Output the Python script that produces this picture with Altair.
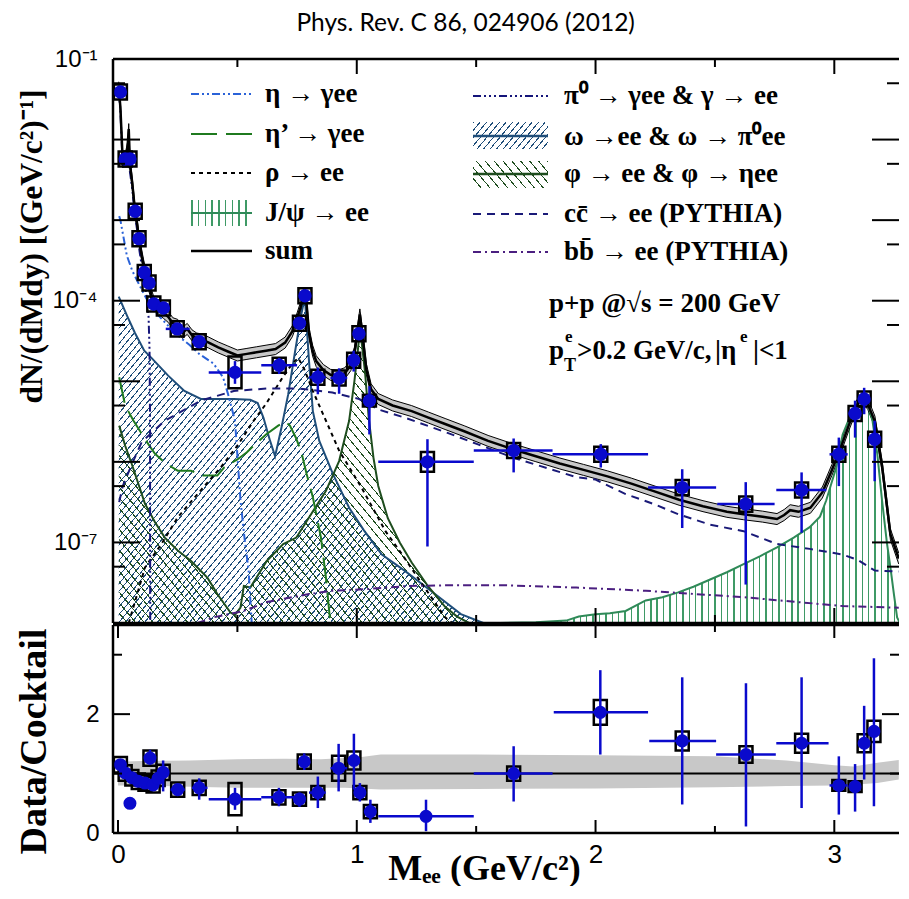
import math
import altair as alt
import pandas as pd

# ====================== values ======================
# --- top panel: measured dN/dMdy ---
data_m = [0.010, 0.030, 0.050, 0.072, 0.088, 0.110, 0.130, 0.150, 0.190, 0.248,
          0.340, 0.490, 0.675, 0.760, 0.783, 0.837, 0.926, 0.987, 1.009, 1.053,
          1.296, 1.657, 2.022, 2.363, 2.629, 2.863, 3.019, 3.087, 3.125, 3.169]
data_v = [3.89e-2, 5.75e-3, 5.75e-3, 1.29e-3, 5.89e-4, 2.24e-4, 1.66e-4, 9.12e-5, 8.13e-5, 4.47e-5,
          3.09e-5, 1.29e-5, 1.58e-5, 5.25e-5, 1.15e-4, 1.12e-5, 1.10e-5, 1.82e-5, 3.89e-5, 5.75e-6,
          1.00e-6, 1.38e-6, 1.24e-6, 4.79e-7, 2.99e-7, 4.47e-7, 1.24e-6, 3.98e-6, 6.03e-6, 1.91e-6]
data_lo = [3.6e-2, 5.4e-3, 5.4e-3, 1.2e-3, 5.5e-4, 2.08e-4, 1.55e-4, 8.4e-5, 7.5e-5, 4.1e-5,
           2.63e-5, 9.3e-6, 1.23e-5, 4.8e-5, 1.08e-4, 6.9e-6, 7.0e-6, 1.32e-5, 3.5e-5, 2.19e-6,
           8.9e-8, 7.4e-7, 8.5e-7, 1.51e-7, 3.0e-8, 1.32e-7, 5.0e-7, 2.0e-6, 3.9e-6, 5.75e-7]
data_hi = [4.2e-2, 6.1e-3, 6.1e-3, 1.38e-3, 6.3e-4, 2.4e-4, 1.78e-4, 9.9e-5, 8.8e-5, 4.9e-5,
           3.63e-5, 1.78e-5, 1.95e-5, 5.7e-5, 1.22e-4, 1.48e-5, 1.45e-5, 2.4e-5, 4.3e-5, 8.7e-6,
           1.91e-6, 1.95e-6, 1.66e-6, 8.1e-7, 5.6e-7, 7.4e-7, 2.0e-6, 5.75e-6, 8.3e-6, 3.24e-6]
data_mlo = [0.005, 0.025, 0.045, 0.066, 0.082, 0.104, 0.124, 0.140, 0.180, 0.200,
            0.310, 0.380, 0.600, 0.750, 0.775, 0.800, 0.890, 0.970, 1.000, 1.030,
            1.090, 1.490, 1.820, 2.220, 2.510, 2.757, 2.980, 3.060, 3.110, 3.150]
data_mhi = [0.015, 0.035, 0.055, 0.078, 0.094, 0.116, 0.136, 0.160, 0.200, 0.300,
            0.370, 0.600, 0.750, 0.770, 0.790, 0.870, 0.960, 1.000, 1.020, 1.080,
            1.490, 1.820, 2.220, 2.505, 2.750, 2.967, 3.056, 3.110, 3.140, 3.190]
data_sys = [0.24, 0.24, 0.24, 0.24, 0.24, 0.24, 0.24, 0.24, 0.24, 0.24,
            0.24, 0.57, 0.24, 0.24, 0.24, 0.24, 0.24, 0.24, 0.24, 0.18,
            0.33, 0.24, 0.24, 0.24, 0.24, 0.24, 0.24, 0.24, 0.24, 0.24]

# --- bottom panel: data / cocktail ---
ratio_m = [0.010, 0.030, 0.050, 0.058, 0.085, 0.113, 0.134, 0.147, 0.168, 0.189,
           0.250, 0.340, 0.490, 0.674, 0.760, 0.780, 0.837, 0.924, 0.988, 1.013,
           1.057, 1.290, 1.657, 2.020, 2.363, 2.630, 2.863, 3.019, 3.087, 3.125, 3.166]
ratio_v = [1.15, 1.01, 0.50, 0.93, 0.87, 0.84, 1.26, 0.81, 0.92, 1.02,
           0.73, 0.76, 0.57, 0.60, 0.57, 1.20, 0.68, 1.09, 1.22, 0.68,
           0.36, 0.28, 1.00, 2.03, 1.55, 1.32, 1.51, 0.80, 0.78, 1.51, 1.71]
ratio_lo = [1.09, 0.96, 0.46, 0.88, 0.82, 0.79, 1.15, 0.76, 0.85, 0.70,
            0.68, 0.56, 0.39, 0.45, 0.44, 1.06, 0.42, 0.70, 0.73, 0.53,
            0.17, 0.03, 0.53, 1.32, 0.48, 0.11, 0.42, 0.31, 0.36, 0.90, 0.45]
ratio_hi = [1.21, 1.06, 0.54, 0.98, 0.92, 0.89, 1.40, 0.86, 0.99, 1.22,
            0.78, 0.92, 0.76, 0.76, 0.68, 1.34, 0.95, 1.50, 1.67, 0.84,
            0.56, 0.56, 1.46, 2.74, 2.62, 2.52, 2.62, 1.29, 1.16, 2.14, 2.94]
ratio_mlo = [0.005, 0.025, 0.045, 0.053, 0.080, 0.108, 0.129, 0.142, 0.163, 0.184,
             0.220, 0.310, 0.380, 0.600, 0.750, 0.775, 0.800, 0.890, 0.970, 1.000,
             1.030, 1.090, 1.490, 1.825, 2.225, 2.505, 2.757, 2.980, 3.060, 3.110, 3.150]
ratio_mhi = [0.015, 0.035, 0.055, 0.063, 0.090, 0.118, 0.139, 0.152, 0.173, 0.194,
             0.280, 0.375, 0.600, 0.747, 0.770, 0.790, 0.870, 0.960, 1.000, 1.025,
             1.080, 1.490, 1.820, 2.220, 2.505, 2.755, 2.976, 3.056, 3.110, 3.140, 3.190]
ratio_sys = [0.13, 0.13, 0.00, 0.13, 0.13, 0.13, 0.13, 0.13, 0.13, 0.13,
             0.12, 0.12, 0.27, 0.12, 0.11, 0.12, 0.11, 0.21, 0.15, 0.11,
             0.11, 0.00, 0.12, 0.21, 0.16, 0.14, 0.16, 0.09, 0.09, 0.15, 0.18]

# cocktail systematic band in the ratio panel
band_m = [0.0, 0.1, 0.3, 0.5, 0.7, 0.85, 0.95, 1.02, 1.1, 1.5, 2.0, 2.5, 2.8, 3.0, 3.08, 3.18, 3.27]
band_lo = [0.80, 0.80, 0.78, 0.76, 0.76, 0.76, 0.76, 0.75, 0.73, 0.74, 0.75, 0.77, 0.79, 0.80, 0.81, 0.84, 0.90]
band_hi = [1.20, 1.21, 1.22, 1.24, 1.25, 1.24, 1.26, 1.28, 1.32, 1.32, 1.31, 1.29, 1.22, 1.14, 1.12, 1.18, 1.23]
SUM_BAND = 1.17   # relative systematic width of the cocktail sum (top panel)

# --- cocktail components: mass [GeV/c^2] and log10(dN/dMdy) ---
sum_m = [0.003, 0.01, 0.02, 0.03, 0.04, 0.045, 0.05, 0.06, 0.07, 0.08, 0.09, 0.10, 0.11, 0.12, 0.13,
         0.14, 0.15, 0.17, 0.19, 0.21, 0.23, 0.25, 0.27, 0.29, 0.31, 0.33, 0.35, 0.38, 0.42, 0.46,
         0.50, 0.54, 0.58, 0.62, 0.66, 0.70, 0.73, 0.75, 0.765, 0.775, 0.782, 0.79, 0.80, 0.815, 0.83,
         0.86, 0.89, 0.92, 0.95, 0.975, 0.99, 1.0, 1.013, 1.025, 1.04, 1.06, 1.09, 1.15, 1.23, 1.30,
         1.37, 1.45, 1.55, 1.65, 1.75, 1.85, 1.95, 2.05, 2.15, 2.25, 2.35, 2.45, 2.55, 2.62, 2.70,
         2.76, 2.79, 2.815, 2.85, 2.90, 2.95, 2.99, 3.03, 3.06, 3.09, 3.118, 3.14, 3.17, 3.20, 3.235, 3.27]
sum_log10 = [-1.35, -1.6, -2.28, -2.25, -2.1, -1.87, -2.3, -2.55, -2.85, -3.05, -3.28, -3.45, -3.6, -3.72, -3.82,
             -3.93, -4.02, -4.1, -4.15, -4.2, -4.28, -4.3, -4.4, -4.35, -4.43, -4.47, -4.48, -4.52, -4.58, -4.63,
             -4.68, -4.66, -4.64, -4.62, -4.6, -4.52, -4.38, -4.22, -4.08, -3.95, -3.9, -4.05, -4.4, -4.62, -4.75,
             -4.86, -4.92, -4.93, -4.9, -4.8, -4.65, -4.45, -4.17, -4.45, -4.85, -5.1, -5.22, -5.3, -5.37, -5.45,
             -5.53, -5.62, -5.74, -5.84, -5.93, -6.02, -6.1, -6.18, -6.27, -6.37, -6.47, -6.55, -6.62, -6.65, -6.68,
             -6.71, -6.66, -6.6, -6.62, -6.57, -6.38, -6.1, -5.8, -5.55, -5.32, -5.2, -5.28, -5.5, -6.05, -6.9, -7.2]

pi0_m = [0.003, 0.01, 0.02, 0.03, 0.04, 0.05, 0.06, 0.07, 0.08, 0.09, 0.10, 0.11, 0.12, 0.128, 0.132, 0.134, 0.135]
pi0_log10 = [-1.38, -1.65, -2.33, -2.3, -2.2, -2.4, -2.62, -2.92, -3.12, -3.38, -3.58, -3.76, -3.95, -4.2, -4.6, -5.4, -8.0]

eta_m = [0.005, 0.01, 0.037, 0.06, 0.092, 0.12, 0.15, 0.2, 0.25, 0.3, 0.34, 0.40, 0.44, 0.46, 0.49,
         0.513, 0.53, 0.547, 0.56]
eta_log10 = [-2.95, -3.0, -3.44, -3.63, -3.82, -3.98, -4.12, -4.28, -4.43, -4.55, -4.66, -4.78, -4.95, -5.15, -5.49,
             -6.48, -6.95, -7.35, -8.0]

etap_m = [0.005, 0.03, 0.065, 0.127, 0.155, 0.2, 0.25, 0.306, 0.35, 0.416, 0.444, 0.5, 0.54, 0.575, 0.62,
          0.671, 0.70, 0.72, 0.745, 0.768, 0.79, 0.816, 0.85, 0.871, 0.887, 0.895]
etap_log10 = [-4.95, -5.3, -5.49, -5.78, -5.9, -6.02, -6.11, -6.11, -6.17, -6.17, -6.07, -5.97, -5.88, -5.78, -5.66,
              -5.55, -5.5, -5.55, -5.7, -5.88, -6.15, -6.44, -6.94, -7.44, -7.93, -8.0]

rho_m = [0.045, 0.113, 0.182, 0.25, 0.333, 0.43, 0.5, 0.568, 0.62, 0.69, 0.73, 0.755, 0.78, 0.816, 0.871,
         0.926, 1.02, 1.12, 1.19, 1.27, 1.37, 1.40]
rho_log10 = [-8.0, -7.31, -7.02, -6.69, -6.40, -6.07, -5.8, -5.49, -5.28, -4.95, -4.78, -4.71, -4.85, -5.12, -5.49,
             -5.86, -6.32, -6.86, -7.15, -7.5, -7.93, -8.0]

omega_m = [0.003, 0.04, 0.071, 0.11, 0.14, 0.21, 0.278, 0.347, 0.42, 0.485, 0.554, 0.585, 0.609, 0.637, 0.658,
           0.685, 0.713, 0.74, 0.765, 0.778, 0.783, 0.79, 0.80, 0.816, 0.843, 0.90, 0.968, 1.03, 1.105, 1.2,
           1.31, 1.436, 1.53]
omega_log10 = [-3.95, -4.2, -4.4, -4.62, -4.71, -4.93, -5.12, -5.22, -5.22, -5.22, -5.23, -5.27, -5.45, -5.74, -5.93,
               -5.57, -5.16, -4.66, -4.21, -4.02, -3.97, -4.3, -4.75, -5.37, -5.74, -6.15, -6.57, -6.85, -7.15, -7.35,
               -7.6, -7.89, -8.0]

phi_m = [0.005, 0.03, 0.058, 0.113, 0.155, 0.196, 0.25, 0.306, 0.375, 0.416, 0.471, 0.49, 0.513, 0.527, 0.554,
         0.623, 0.692, 0.747, 0.80, 0.871, 0.926, 0.968, 0.99, 1.005, 1.013, 1.022, 1.035, 1.05, 1.07, 1.09,
         1.13, 1.18, 1.23, 1.3, 1.37, 1.42, 1.47]
phi_log10 = [-5.55, -5.8, -6.03, -6.52, -6.75, -6.94, -7.1, -7.23, -7.44, -7.64, -7.87, -7.9, -7.81, -7.54, -7.56,
             -7.23, -7.02, -6.94, -6.69, -6.36, -5.99, -5.49, -5.0, -4.6, -4.37, -4.55, -4.9, -5.45, -5.95, -6.3,
             -6.7, -7.0, -7.25, -7.55, -7.8, -7.92, -8.0]

jpsi_m = [1.45, 1.6, 1.75, 1.877, 1.93, 2.0, 2.06, 2.126, 2.21, 2.28, 2.346, 2.41, 2.48, 2.55, 2.62, 2.69,
          2.76, 2.83, 2.897, 2.94, 2.966, 3.008, 3.035, 3.06, 3.077, 3.1, 3.118, 3.14, 3.16, 3.18, 3.2, 3.22,
          3.235, 3.25, 3.263, 3.275]
jpsi_log10 = [-8.0, -8.0, -7.99, -7.97, -7.92, -7.89, -7.88, -7.85, -7.72, -7.68, -7.62, -7.55, -7.46, -7.37, -7.27,
              -7.17, -7.06, -6.94, -6.81, -6.68, -6.48, -6.07, -5.66, -5.48, -5.37, -5.26, -5.2, -5.27, -5.49, -5.9,
              -6.48, -7.0, -7.31, -7.65, -7.93, -8.0]

cc_m = [0.005, 0.02, 0.058, 0.1, 0.196, 0.347, 0.485, 0.623, 0.76, 0.898, 1.01, 1.09, 1.2, 1.38, 1.505, 1.657,
        1.8, 1.92, 2.0, 2.126, 2.25, 2.346, 2.48, 2.62, 2.76, 2.897, 3.035, 3.1, 3.17, 3.27]
cc_log10 = [-6.5, -6.3, -6.03, -5.75, -5.49, -5.24, -5.12, -5.09, -5.09, -5.14, -5.22, -5.35, -5.45, -5.64, -5.78,
            -5.95, -6.08, -6.19, -6.22, -6.40, -6.53, -6.65, -6.78, -6.86, -7.02, -7.08, -7.15, -7.22, -7.35, -7.36]

bb_m = [0.333, 0.4, 0.527, 0.623, 0.80, 0.898, 1.037, 1.216, 1.42, 1.6, 1.92, 2.21, 2.62, 3.035, 3.27]
bb_log10 = [-8.0, -7.93, -7.85, -7.74, -7.64, -7.6, -7.58, -7.54, -7.53, -7.53, -7.56, -7.6, -7.68, -7.79, -7.81]

# ====================== layout / style ======================
W = 786
XMAX = 3.25
H_TOP = 564
H_BOT = 208
YMIN_EXP, YMAX_EXP = -8, -1
PXU = W / XMAX
PXD = H_TOP / (YMAX_EXP - YMIN_EXP)

BLUE = "#0a0acc"
C_ETA = "#2a62d8"
C_ETAP = "#1f7a1f"
C_PI0 = "#14147a"
C_OMEGA = "#1f4e7a"
C_PHI = "#1e4d1e"
C_JPSI = "#2f8a58"
C_JPSI_H = "#3f9a66"
C_CC = "#1a1a78"
C_BB = "#4b1f80"
SERIF = "Liberation Serif"
SANS = "Liberation Sans"
LEG = 27

XS = alt.Scale(domain=[0, XMAX], nice=False, zero=False)
YS = alt.Scale(type="log", domain=[10.0 ** YMIN_EXP, 10.0 ** YMAX_EXP], nice=False)
RS = alt.Scale(domain=[0, 3.5], nice=False, zero=False)

YAX_TOP = alt.Axis(values=[1e-1, 1e-4, 1e-7],
                   labelExpr="datum.value > 0.01 ? '10⁻¹' : (datum.value > 0.00001 ? '10⁻⁴' : '10⁻⁷')",
                   ticks=False, tickSize=0, domain=False, grid=False, labelFlush=False,
                   labelFont=SANS, labelFontSize=24, labelColor="black", labelPadding=16,
                   title="dN/(dMdy) [(GeV/c²)⁻¹]", titleFont=SERIF, titleFontWeight="bold",
                   titleFontSize=31.5, titleColor="black", titleAngle=270, titleAlign="center",
                   titleBaseline="alphabetic", titleX=-72, titleY=187)
YAX_BOT = alt.Axis(values=[0, 2], ticks=False, tickSize=0, domain=False, grid=False, labelFlush=False,
                   labelFont=SANS, labelFontSize=24, labelColor="black", labelPadding=14,
                   title="Data/Cocktail", titleFont=SERIF, titleFontWeight="bold", titleFontSize=38,
                   titleColor="black", titleAngle=270, titleAlign="center", titleBaseline="alphabetic",
                   titleX=-68, titleY=116)
XAX_BOT = alt.Axis(values=[0, 1, 2, 3], ticks=False, tickSize=0, domain=False, grid=False, labelFlush=False,
                   labelFont=SANS, labelFontSize=26, labelColor="black", labelPadding=8,
                   title="Mₑₑ (GeV/c²)", titleFont=SERIF, titleFontWeight="bold", titleFontSize=36,
                   titleColor="black", titleAlign="center", titleBaseline="alphabetic",
                   titleX=371, titleY=46)


def tx(f):
    return alt.X(f, type="quantitative", scale=XS, axis=None)


def ty(f):
    return alt.Y(f, type="quantitative", scale=YS, axis=YAX_TOP)


def bx(f):
    return alt.X(f, type="quantitative", scale=XS, axis=XAX_BOT)


def by(f):
    return alt.Y(f, type="quantitative", scale=RS, axis=YAX_BOT)


ONE = pd.DataFrame({"k": [0]})


def curve(ms, logs):
    return pd.DataFrame({"M": ms, "v": [10.0 ** e for e in logs]})


def hatch_fill(color, w_px, h_px, period, kind, lw=1.0, angle=50):
    clear = "rgba(255,255,255,0)"
    if kind == "|":
        x1, y1, x2, y2 = 0.0, 0.0, 1.0, 0.0
        n = max(1, int(round(w_px / period)))
    else:
        k = h_px / (w_px * math.tan(math.radians(angle)))
        gx = (1 + k) / (1 + k * k)
        gy = k * gx
        g2 = gx * gx + gy * gy
        m = math.hypot(gx / w_px, gy / h_px) / g2
        n = max(1, int(round(1.0 / (period * m))))
        if kind == "/":
            x1, y1, x2, y2 = 0.0, 0.0, gx, gy
        else:
            x1, y1, x2, y2 = 1.0, 0.0, 1.0 - gx, gy
    frac = min(0.9, lw / period)
    stops = []
    for i in range(n):
        a, b, c = i / n, (i + frac) / n, (i + 1) / n
        stops += [{"offset": round(a, 6), "color": color}, {"offset": round(b, 6), "color": color},
                  {"offset": round(b, 6), "color": clear}, {"offset": round(c, 6), "color": clear}]
    return {"gradient": "linear", "x1": x1, "y1": y1, "x2": x2, "y2": y2, "stops": stops}


def area_box(ms, logs):
    return (max(ms) - min(ms)) * PXU, (max(logs) - YMIN_EXP) * PXD


def hatched_area(ms, logs, color, kind, period, lw=1.0):
    w, h = area_box(ms, logs)
    return alt.Chart(curve(ms, logs)).mark_area(
        fill=hatch_fill(color, w, h, period, kind, lw), clip=True, interpolate="linear"
    ).encode(x=tx("M"), y=ty("v"), y2=alt.datum(10.0 ** YMIN_EXP))


def line(ms, logs, color, dash=None, width=2.0):
    kw = dict(color=color, strokeWidth=width, clip=True)
    if dash:
        kw["strokeDash"] = dash
    return alt.Chart(curve(ms, logs)).mark_line(**kw).encode(x=tx("M"), y=ty("v"))


def text(s, x, y, size=LEG, font=SERIF, weight="bold", align="left", baseline="middle"):
    return alt.Chart(pd.DataFrame({"t": [s]})).mark_text(
        align=align, baseline=baseline, font=font, fontSize=size, fontWeight=weight, color="black"
    ).encode(text="t:N", x=alt.value(x), y=alt.value(y))


def seg(x1, x2, y, color, dash=None, width=2.0):
    kw = dict(color=color, strokeWidth=width)
    if dash:
        kw["strokeDash"] = dash
    return alt.Chart(ONE).mark_rule(**kw).encode(x=alt.value(x1), x2=alt.value(x2), y=alt.value(y))


def vseg(x, y1, y2, width=2.5):
    return alt.Chart(ONE).mark_rule(color="black", strokeWidth=width).encode(
        x=alt.value(x), y=alt.value(y1), y2=alt.value(y2))


D_ETA = [8, 3, 2, 3, 2, 3]
D_ETAP = [26, 9]
D_RHO = [4, 4]
D_PI0 = [8, 3, 2, 3, 2, 3, 2, 3]
D_CC = [8, 6]
D_BB = [8, 4, 2, 4]

# ====================== top panel ======================
top = []
top.append(hatched_area(jpsi_m, jpsi_log10, C_JPSI_H, "|", 6.5, 1.5))
top.append(hatched_area(omega_m, omega_log10, C_OMEGA, "/", 5.0, 1.0))
top.append(hatched_area(phi_m, phi_log10, C_PHI, "\\", 6.8, 1.0))

sum_df = curve(sum_m, sum_log10)
sum_df["lo"] = sum_df["v"] / SUM_BAND
sum_df["hi"] = sum_df["v"] * SUM_BAND
top.append(alt.Chart(sum_df).mark_area(color="#c8c8c8", clip=True).encode(x=tx("M"), y=ty("lo"), y2=alt.Y2("hi")))
top.append(alt.Chart(sum_df).mark_line(color="black", strokeWidth=1, clip=True).encode(x=tx("M"), y=ty("lo")))
top.append(alt.Chart(sum_df).mark_line(color="black", strokeWidth=1, clip=True).encode(x=tx("M"), y=ty("hi")))

top.append(line(jpsi_m, jpsi_log10, C_JPSI, width=2))
top.append(line(omega_m, omega_log10, C_OMEGA, width=2))
top.append(line(phi_m, phi_log10, C_PHI, width=2))
top.append(line(eta_m, eta_log10, C_ETA, D_ETA))
top.append(line(etap_m, etap_log10, C_ETAP, D_ETAP))
top.append(line(rho_m, rho_log10, "black", D_RHO))
top.append(line(pi0_m, pi0_log10, C_PI0, D_PI0))
top.append(line(cc_m, cc_log10, C_CC, D_CC))
top.append(line(bb_m, bb_log10, C_BB, D_BB))
top.append(alt.Chart(sum_df).mark_line(color="black", strokeWidth=2.5, clip=True).encode(x=tx("M"), y=ty("v")))

pts = pd.DataFrame({"M": data_m, "v": data_v, "lo": data_lo, "hi": data_hi,
                    "mlo": data_mlo, "mhi": data_mhi, "sys": data_sys})
pts["slo"] = pts["v"] / (1 + pts["sys"])
pts["shi"] = pts["v"] * (1 + pts["sys"])
top.append(alt.Chart(pts).mark_bar(size=13, fillOpacity=0, stroke="black", strokeWidth=2.5, clip=True)
           .encode(x=tx("M"), y=ty("slo"), y2=alt.Y2("shi")))
top.append(alt.Chart(pts).mark_rule(color=BLUE, strokeWidth=2.5, clip=True)
           .encode(x=tx("M"), y=ty("lo"), y2=alt.Y2("hi")))
top.append(alt.Chart(pts).mark_rule(color=BLUE, strokeWidth=2.5, clip=True)
           .encode(x=tx("mlo"), x2=alt.X2("mhi"), y=ty("v")))
top.append(alt.Chart(pts).mark_circle(color=BLUE, size=180, opacity=1).encode(x=tx("M"), y=ty("v")))

# ticks (inside) and frame
maj_y = pd.DataFrame({"t": [10.0 ** e for e in range(YMIN_EXP, YMAX_EXP + 1)]})
min_y = pd.DataFrame({"t": [5 * 10.0 ** e for e in range(YMIN_EXP, YMAX_EXP)]})
maj_x = pd.DataFrame({"t": [1, 2, 3]})
min_x = pd.DataFrame({"t": [0.5, 1.5, 2.5]})
for df, ln in ((maj_y, 27), (min_y, 12)):
    top.append(alt.Chart(df).mark_rule(color="black", strokeWidth=2).encode(y=ty("t"), x=alt.value(0), x2=alt.value(ln)))
    top.append(alt.Chart(df).mark_rule(color="black", strokeWidth=2).encode(y=ty("t"), x=alt.value(W - ln), x2=alt.value(W)))
for df, ln in ((maj_x, 15), (min_x, 8)):
    top.append(alt.Chart(df).mark_rule(color="black", strokeWidth=2).encode(x=tx("t"), y=alt.value(0), y2=alt.value(ln)))
    top.append(alt.Chart(df).mark_rule(color="black", strokeWidth=2).encode(x=tx("t"), y=alt.value(H_TOP - ln), y2=alt.value(H_TOP)))
top.append(vseg(0, 0, H_TOP))
top.append(seg(0, W, 0, "black", width=2.5))
top.append(seg(0, W, H_TOP, "black", width=2.5))

# legend (left column)
LX1, LX2, LT = 78, 139, 152
top.append(seg(LX1, LX2, 35, C_ETA, D_ETA))
top.append(seg(LX1, LX2, 75, C_ETAP, D_ETAP))
top.append(seg(LX1, LX2, 114, "black", D_RHO))
top.append(alt.Chart(ONE).mark_rect(fill=hatch_fill(C_JPSI_H, LX2 - LX1, 26, 6.5, "|", 1.5)).encode(
    x=alt.value(LX1), x2=alt.value(LX2), y=alt.value(141), y2=alt.value(167)))
top.append(seg(LX1, LX2, 154, C_JPSI, width=2))
top.append(seg(LX1, LX2, 192, "black", width=2.5))
top.append(text("η → γee", LT, 35))
top.append(text("η’ → γee", LT, 75))
top.append(text("ρ → ee", LT, 114))
top.append(text("J/ψ → ee", LT, 154))
top.append(text("sum", LT, 192))
# legend (right column)
RX1, RX2, RT = 360, 435, 451
top.append(seg(RX1, RX2, 37, C_PI0, D_PI0))
top.append(alt.Chart(ONE).mark_rect(fill=hatch_fill(C_OMEGA, RX2 - RX1, 27, 5.0, "/", 1.0)).encode(
    x=alt.value(RX1), x2=alt.value(RX2), y=alt.value(63), y2=alt.value(90)))
top.append(seg(RX1, RX2, 77, C_OMEGA, width=2.5))
top.append(alt.Chart(ONE).mark_rect(fill=hatch_fill(C_PHI, RX2 - RX1, 27, 6.8, "\\", 1.0)).encode(
    x=alt.value(RX1), x2=alt.value(RX2), y=alt.value(102), y2=alt.value(129)))
top.append(seg(RX1, RX2, 115, C_PHI, width=2.5))
top.append(seg(RX1, RX2, 155, C_CC, D_CC))
top.append(seg(RX1, RX2, 193, C_BB, D_BB))
top.append(text("π⁰ → γee & γ → ee", RT, 37))
top.append(text("ω →ee & ω → π⁰ee", RT, 78))
top.append(text("φ → ee & φ → ηee", RT, 115))
top.append(text("cc̄ → ee (PYTHIA)", RT, 155))
top.append(text("bb̄ → ee (PYTHIA)", RT, 193))
top.append(text("p+p @√s = 200 GeV", 436, 245))
top.append(text("p", 436, 292))
top.append(text("e", 452, 278, size=17))
top.append(text("T", 451, 307, size=18))
top.append(text(">0.2 GeV/c,", 464, 292))
top.append(text("|η", 602, 292))
top.append(text("e", 627, 278, size=17))
top.append(text("|<1", 640, 292))

top_chart = alt.layer(*top).properties(width=W, height=H_TOP)

# ====================== bottom panel ======================
bot = []
bdf = pd.DataFrame({"M": band_m, "lo": band_lo, "hi": band_hi})
bot.append(alt.Chart(bdf).mark_area(color="#c8c8c8", clip=True).encode(x=bx("M"), y=by("lo"), y2=alt.Y2("hi")))
bot.append(alt.Chart(pd.DataFrame({"one": [1.0]})).mark_rule(color="black", strokeWidth=2).encode(y=by("one")))
rdf = pd.DataFrame({"M": ratio_m, "v": ratio_v, "lo": ratio_lo, "hi": ratio_hi,
                    "mlo": ratio_mlo, "mhi": ratio_mhi, "sys": ratio_sys})
rdf["slo"] = rdf["v"] - rdf["sys"]
rdf["shi"] = rdf["v"] + rdf["sys"]
bot.append(alt.Chart(rdf).transform_filter("datum.sys > 0").mark_bar(
    size=13, fillOpacity=0, stroke="black", strokeWidth=2.5).encode(x=bx("M"), y=by("slo"), y2=alt.Y2("shi")))
bot.append(alt.Chart(rdf).mark_rule(color=BLUE, strokeWidth=2.5).encode(x=bx("M"), y=by("lo"), y2=alt.Y2("hi")))
bot.append(alt.Chart(rdf).mark_rule(color=BLUE, strokeWidth=2.5).encode(x=bx("mlo"), x2=alt.X2("mhi"), y=by("v")))
bot.append(alt.Chart(rdf).mark_circle(color=BLUE, size=170, opacity=1).encode(x=bx("M"), y=by("v")))

rmaj = pd.DataFrame({"t": [0, 2]})
rmin = pd.DataFrame({"t": [1, 3]})
bmaj_x = pd.DataFrame({"t": [0, 1, 2, 3]})
for df, ln in ((rmaj, 17), (rmin, 9)):
    bot.append(alt.Chart(df).mark_rule(color="black", strokeWidth=2).encode(y=by("t"), x=alt.value(0), x2=alt.value(ln)))
    bot.append(alt.Chart(df).mark_rule(color="black", strokeWidth=2).encode(y=by("t"), x=alt.value(W - ln), x2=alt.value(W)))
for df, ln in ((bmaj_x, 13), (min_x, 7)):
    bot.append(alt.Chart(df).mark_rule(color="black", strokeWidth=2).encode(x=bx("t"), y=alt.value(0), y2=alt.value(ln)))
    bot.append(alt.Chart(df).mark_rule(color="black", strokeWidth=2).encode(x=bx("t"), y=alt.value(H_BOT - ln), y2=alt.value(H_BOT)))
bot.append(vseg(0, 0, H_BOT))
bot.append(seg(0, W, 0, "black", width=2.5))
bot.append(seg(0, W, H_BOT, "black", width=2.5))

bot_chart = alt.layer(*bot).properties(width=W, height=H_BOT)

chart = alt.vconcat(top_chart, bot_chart, spacing=2, bounds="flush").properties(
    title=alt.TitleParams("Phys. Rev. C 86, 024906 (2012)", font="Lato", fontSize=24.5, fontWeight="normal",
                          color="black", anchor="middle", offset=11, dx=8),
    padding={"left": 6, "top": 2, "right": 0, "bottom": 0},
).configure_view(stroke=None)

chart.save("out.html", embed_options={"renderer": "svg", "actions": False})
